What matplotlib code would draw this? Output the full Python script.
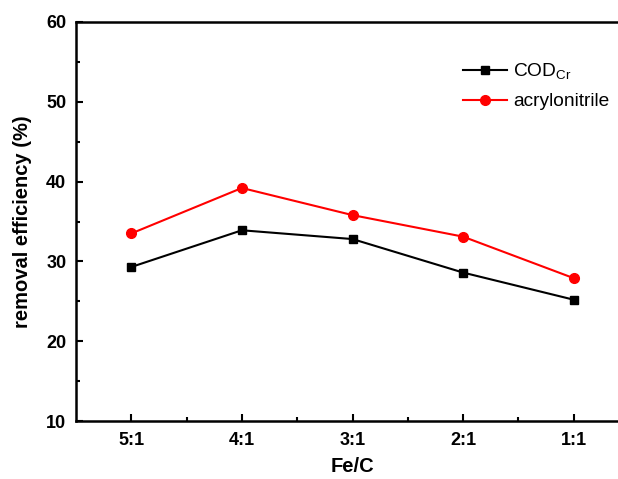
import matplotlib
matplotlib.use('Agg')
import matplotlib.pyplot as plt
from matplotlib.ticker import MultipleLocator

plt.rcParams['font.family'] = ['Liberation Sans', 'DejaVu Sans']
plt.rcParams['mathtext.default'] = 'regular'

# Fe/C ratio and removal efficiencies (%)
ratios = ['5:1', '4:1', '3:1', '2:1', '1:1']
cod = [29.3, 33.9, 32.8, 28.6, 25.2]
acrylonitrile = [33.5, 39.2, 35.8, 33.1, 27.9]

x = list(range(1, len(ratios) + 1))

fig = plt.figure(figsize=(6.18, 4.79), dpi=100)
# axes run past the right edge, as in the cropped original
ax = fig.add_axes([76 / 618, 58 / 479, 553 / 618, 399 / 479])

ax.plot(x, cod, color='black', marker='s', markersize=5.5, linewidth=1.5, label='COD$_{Cr}$')
ax.plot(x, acrylonitrile, color='red', marker='o', markersize=7, linewidth=1.5, label='acrylonitrile')

ax.set_xlim(0.5, 5.5)
ax.set_ylim(10, 60)
ax.set_xticks(x)
ax.set_xticklabels(ratios)
ax.set_xticks([1.5, 2.5, 3.5, 4.5], minor=True)
ax.yaxis.set_major_locator(MultipleLocator(10))
ax.yaxis.set_minor_locator(MultipleLocator(5))

ax.tick_params(which='both', direction='in', width=1.5, labelsize=13)
ax.tick_params(which='major', length=5)
ax.tick_params(which='minor', length=3)
ax.tick_params(axis='y', which='major', pad=7)
ax.tick_params(axis='x', which='major', pad=8)
for lab in ax.get_xticklabels() + ax.get_yticklabels():
    lab.set_fontweight('bold')
for s in ax.spines.values():
    s.set_linewidth(1.8)

ax.set_xlabel('Fe/C', fontsize=14.5, fontweight='bold', labelpad=6)
ax.set_ylabel('removal efficiency (%)', fontsize=14.5, fontweight='bold', labelpad=10)

ax.legend(loc='upper left', bbox_to_anchor=(463 / 618, 0.872), bbox_transform=fig.transFigure,
          frameon=False, fontsize=13.8, handlelength=2.3, handletextpad=0.3,
          borderpad=0, borderaxespad=0, labelspacing=0.6)

fig.savefig('out.png', dpi=100)
